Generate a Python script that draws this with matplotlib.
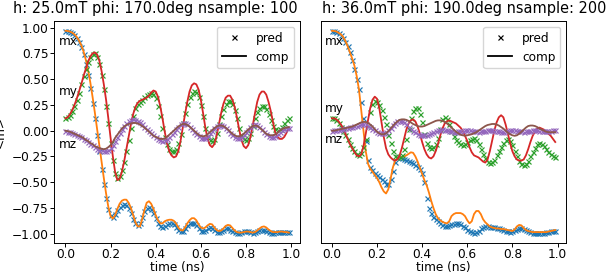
import matplotlib
matplotlib.use("Agg")
import matplotlib.pyplot as plt
import numpy as np
from matplotlib.lines import Line2D

# sample times (ns), 100 samples per run
time = np.linspace(0.0, 0.99, 100)

titles = ["h: 25.0mT phi: 170.0deg nsample: 100",
          "h: 36.0mT phi: 190.0deg nsample: 200"]
comp_names = ["mx", "my", "mz"]

# ---- run 1: h = 25 mT, phi = 170 deg ----
mx_pred_1 = [0.97, 0.97, 0.96, 0.95, 0.93, 0.90, 0.86, 0.81, 0.74, 0.65,
             0.54, 0.41, 0.27, 0.12, -0.04, -0.20, -0.37, -0.52, -0.65, -0.76,
             -0.82, -0.84, -0.81, -0.77, -0.74, -0.72, -0.71, -0.72, -0.75, -0.80,
             -0.86, -0.90, -0.92, -0.90, -0.84, -0.78, -0.75, -0.74, -0.76, -0.80,
             -0.85, -0.90, -0.93, -0.94, -0.93, -0.91, -0.90, -0.90, -0.91, -0.94,
             -0.96, -0.975, -0.97, -0.95, -0.92, -0.90, -0.895, -0.90, -0.92, -0.95,
             -0.97, -0.975, -0.965, -0.95, -0.94, -0.945, -0.96, -0.98, -0.985, -0.975,
             -0.96, -0.95, -0.95, -0.96, -0.975, -0.985, -0.99, -0.99, -0.985, -0.975,
             -0.97, -0.975, -0.985, -0.99, -0.985, -0.975, -0.965, -0.96, -0.965, -0.975,
             -0.985, -0.99, -0.99, -0.985, -0.98, -0.98, -0.985, -0.985, -0.985, -0.985]
mx_comp_1 = [0.97, 0.968, 0.962, 0.952, 0.935, 0.91, 0.875, 0.83, 0.77, 0.69,
             0.59, 0.47, 0.33, 0.18, 0.02, -0.14, -0.30, -0.46, -0.61, -0.74,
             -0.83, -0.855, -0.82, -0.76, -0.71, -0.68, -0.67, -0.67, -0.70, -0.75,
             -0.82, -0.89, -0.93, -0.93, -0.86, -0.77, -0.70, -0.685, -0.71, -0.76,
             -0.82, -0.87, -0.90, -0.90, -0.88, -0.87, -0.865, -0.865, -0.875, -0.90,
             -0.94, -0.965, -0.97, -0.94, -0.90, -0.87, -0.85, -0.85, -0.87, -0.91,
             -0.94, -0.95, -0.94, -0.92, -0.905, -0.91, -0.94, -0.965, -0.975, -0.97,
             -0.95, -0.925, -0.915, -0.92, -0.945, -0.97, -0.985, -0.99, -0.99, -0.985,
             -0.98, -0.98, -0.985, -0.99, -0.985, -0.97, -0.95, -0.935, -0.93, -0.94,
             -0.96, -0.975, -0.985, -0.985, -0.985, -0.98, -0.98, -0.985, -0.985, -0.99]
my_pred_1 = [0.12, 0.13, 0.15, 0.19, 0.24, 0.30, 0.37, 0.45, 0.53, 0.60,
             0.67, 0.72, 0.74, 0.75, 0.72, 0.65, 0.54, 0.40, 0.24, 0.07,
             -0.12, -0.28, -0.41, -0.46, -0.44, -0.38, -0.30, -0.20, -0.09, 0.03,
             0.14, 0.22, 0.26, 0.28, 0.30, 0.33, 0.35, 0.36, 0.37, 0.36,
             0.32, 0.24, 0.14, 0.03, -0.06, -0.13, -0.18, -0.20, -0.20, -0.18,
             -0.12, -0.03, 0.07, 0.17, 0.26, 0.33, 0.37, 0.39, 0.38, 0.33,
             0.25, 0.14, 0.03, -0.05, -0.09, -0.10, -0.08, -0.02, 0.06, 0.14,
             0.21, 0.26, 0.29, 0.29, 0.26, 0.20, 0.12, 0.03, -0.04, -0.08,
             -0.09, -0.07, -0.02, 0.05, 0.12, 0.18, 0.22, 0.24, 0.24, 0.21,
             0.16, 0.10, 0.05, 0.02, 0.01, 0.02, 0.04, 0.07, 0.10, 0.12]
my_comp_1 = [0.12, 0.13, 0.16, 0.20, 0.25, 0.31, 0.38, 0.45, 0.53, 0.60,
             0.67, 0.72, 0.75, 0.76, 0.74, 0.68, 0.58, 0.45, 0.30, 0.12,
             -0.07, -0.25, -0.40, -0.48, -0.47, -0.40, -0.30, -0.18, -0.06, 0.06,
             0.16, 0.23, 0.27, 0.29, 0.30, 0.31, 0.32, 0.34, 0.37, 0.39,
             0.38, 0.33, 0.24, 0.12, -0.01, -0.12, -0.20, -0.24, -0.26, -0.25,
             -0.20, -0.10, 0.03, 0.16, 0.28, 0.38, 0.44, 0.46, 0.45, 0.40,
             0.30, 0.17, 0.03, -0.08, -0.14, -0.16, -0.13, -0.05, 0.06, 0.17,
             0.26, 0.32, 0.34, 0.34, 0.30, 0.23, 0.13, 0.01, -0.09, -0.15,
             -0.17, -0.14, -0.06, 0.05, 0.17, 0.28, 0.35, 0.38, 0.38, 0.35,
             0.28, 0.19, 0.08, -0.02, -0.06, -0.08, -0.08, -0.06, -0.02, 0.03]
mz_pred_1 = [0.0, -0.01, -0.015, -0.025, -0.035, -0.045, -0.055, -0.065, -0.08, -0.095,
             -0.11, -0.125, -0.14, -0.16, -0.175, -0.185, -0.19, -0.195, -0.195, -0.19,
             -0.17, -0.14, -0.10, -0.06, -0.02, 0.02, 0.05, 0.07, 0.09, 0.10,
             0.11, 0.105, 0.095, 0.08, 0.06, 0.04, 0.02, 0.0, -0.02, -0.04,
             -0.06, -0.08, -0.09, -0.10, -0.095, -0.08, -0.06, -0.035, -0.01, 0.015,
             0.04, 0.06, 0.07, 0.07, 0.06, 0.04, 0.015, -0.01, -0.035, -0.055,
             -0.07, -0.075, -0.07, -0.05, -0.025, 0.0, 0.025, 0.045, 0.055, 0.055,
             0.045, 0.03, 0.005, -0.02, -0.045, -0.06, -0.07, -0.07, -0.06, -0.04,
             -0.015, 0.01, 0.035, 0.055, 0.06, 0.055, 0.04, 0.015, -0.01, -0.035,
             -0.05, -0.06, -0.06, -0.05, -0.035, -0.015, 0.005, 0.02, 0.03, 0.03]
mz_comp_1 = [0.0, -0.005, -0.01, -0.02, -0.03, -0.04, -0.05, -0.06, -0.07, -0.09,
             -0.10, -0.12, -0.13, -0.15, -0.16, -0.17, -0.175, -0.18, -0.175, -0.16,
             -0.14, -0.11, -0.07, -0.04, -0.01, 0.02, 0.04, 0.055, 0.065, 0.07,
             0.075, 0.075, 0.07, 0.06, 0.045, 0.03, 0.01, -0.01, -0.03, -0.05,
             -0.06, -0.07, -0.08, -0.08, -0.075, -0.06, -0.04, -0.02, 0.0, 0.02,
             0.04, 0.055, 0.065, 0.065, 0.055, 0.04, 0.02, 0.0, -0.02, -0.04,
             -0.05, -0.055, -0.05, -0.035, -0.015, 0.005, 0.025, 0.04, 0.05, 0.05,
             0.045, 0.03, 0.01, -0.01, -0.03, -0.045, -0.055, -0.055, -0.045, -0.03,
             -0.01, 0.01, 0.03, 0.045, 0.05, 0.045, 0.03, 0.01, -0.01, -0.03,
             -0.04, -0.045, -0.045, -0.035, -0.02, 0.0, 0.015, 0.025, 0.03, 0.035]

# ---- run 2: h = 36 mT, phi = 190 deg ----
mx_pred_2 = [0.97, 0.968, 0.962, 0.95, 0.93, 0.90, 0.86, 0.82, 0.76, 0.69,
             0.60, 0.50, 0.40, 0.28, 0.12, -0.10, -0.28, -0.35, -0.38, -0.41,
             -0.43, -0.45, -0.47, -0.49, -0.52, -0.52, -0.47, -0.39, -0.30, -0.26,
             -0.26, -0.27, -0.275, -0.28, -0.29, -0.30, -0.31, -0.33, -0.35, -0.37,
             -0.41, -0.50, -0.65, -0.75, -0.80, -0.84, -0.86, -0.88, -0.90, -0.915,
             -0.925, -0.93, -0.92, -0.91, -0.905, -0.90, -0.90, -0.91, -0.925, -0.94,
             -0.96, -0.975, -0.985, -0.99, -0.985, -0.97, -0.95, -0.935, -0.93, -0.93,
             -0.935, -0.935, -0.94, -0.945, -0.95, -0.955, -0.96, -0.97, -0.975, -0.98,
             -0.975, -0.965, -0.955, -0.95, -0.95, -0.955, -0.965, -0.975, -0.985, -0.99,
             -0.99, -0.99, -0.99, -0.99, -0.99, -0.985, -0.98, -0.975, -0.975, -0.97]
mx_comp_2 = [0.97, 0.968, 0.963, 0.95, 0.935, 0.91, 0.87, 0.82, 0.76, 0.70,
             0.63, 0.53, 0.40, 0.20, 0.0, -0.20, -0.32, -0.37, -0.40, -0.43,
             -0.46, -0.50, -0.55, -0.59, -0.61, -0.57, -0.47, -0.36, -0.29, -0.27,
             -0.26, -0.255, -0.25, -0.24, -0.225, -0.21, -0.215, -0.25, -0.30, -0.36,
             -0.42, -0.48, -0.53, -0.60, -0.68, -0.75, -0.81, -0.85, -0.87, -0.885,
             -0.895, -0.90, -0.88, -0.83, -0.81, -0.80, -0.80, -0.80, -0.81, -0.83,
             -0.87, -0.90, -0.88, -0.81, -0.78, -0.78, -0.81, -0.86, -0.89, -0.91,
             -0.93, -0.94, -0.945, -0.95, -0.95, -0.955, -0.955, -0.96, -0.965, -0.97,
             -0.975, -0.96, -0.93, -0.915, -0.92, -0.945, -0.965, -0.975, -0.98, -0.985,
             -0.985, -0.985, -0.985, -0.985, -0.985, -0.985, -0.98, -0.975, -0.97, -0.965]
my_pred_2 = [0.12, 0.12, 0.10, 0.07, 0.04, 0.0, -0.04, -0.08, -0.13, -0.17,
             -0.20, -0.23, -0.24, -0.22, -0.16, -0.08, 0.05, 0.18, 0.26, 0.29,
             0.28, 0.25, 0.20, 0.13, 0.06, -0.04, -0.12, -0.20, -0.25, -0.26,
             -0.26, -0.24, -0.18, -0.08, 0.02, 0.12, 0.19, 0.22, 0.22, 0.16,
             0.08, -0.03, -0.12, -0.16, -0.17, -0.16, -0.13, -0.07, 0.02, 0.11,
             0.13, 0.11, 0.06, 0.0, -0.05, -0.09, -0.11, -0.13, -0.14, -0.13,
             -0.11, -0.09, -0.08, -0.07, -0.09, -0.13, -0.18, -0.23, -0.27, -0.30,
             -0.31, -0.30, -0.28, -0.24, -0.20, -0.16, -0.12, -0.09, -0.08, -0.10,
             -0.14, -0.20, -0.25, -0.29, -0.32, -0.33, -0.32, -0.29, -0.25, -0.21,
             -0.17, -0.13, -0.12, -0.13, -0.15, -0.18, -0.21, -0.23, -0.25, -0.26]
my_comp_2 = [0.12, 0.12, 0.11, 0.09, 0.06, 0.02, -0.03, -0.08, -0.13, -0.17,
             -0.21, -0.24, -0.25, -0.23, -0.15, -0.03, 0.10, 0.22, 0.30, 0.33,
             0.31, 0.22, 0.08, -0.06, -0.17, -0.23, -0.26, -0.28, -0.29, -0.28,
             -0.24, -0.17, -0.08, 0.01, 0.07, 0.10, 0.11, 0.09, 0.04, -0.03,
             -0.11, -0.18, -0.23, -0.26, -0.27, -0.25, -0.20, -0.13, -0.05, 0.02,
             0.07, 0.09, 0.10, 0.09, 0.08, 0.07, 0.05, 0.03, 0.0, -0.05,
             -0.10, -0.16, -0.21, -0.24, -0.25, -0.26, -0.28, -0.30, -0.31, -0.28,
             -0.20, -0.10, 0.0, 0.08, 0.13, 0.15, 0.13, 0.06, -0.03, -0.12,
             -0.20, -0.25, -0.28, -0.29, -0.29, -0.28, -0.24, -0.18, -0.11, -0.05,
             -0.01, 0.02, 0.03, 0.02, 0.01, -0.01, -0.03, -0.05, -0.08, -0.11]
mz_pred_2 = [0.0, 0.003, 0.006, 0.01, 0.015, 0.02, 0.025, 0.03, 0.035, 0.04,
             0.045, 0.05, 0.055, 0.06, 0.065, 0.06, 0.05, 0.035, 0.02, 0.005,
             -0.01, -0.02, -0.025, -0.025, -0.015, 0.005, 0.03, 0.055, 0.075, 0.09,
             0.095, 0.09, 0.08, 0.06, 0.04, 0.02, 0.0, -0.015, -0.03, -0.04,
             -0.045, -0.045, -0.04, -0.035, -0.025, -0.015, -0.005, 0.005, 0.01, 0.012,
             0.01, 0.005, 0.0, -0.005, -0.01, -0.01, -0.008, -0.004, 0.0, 0.004,
             0.006, 0.005, 0.0, -0.005, -0.008, -0.01, -0.008, -0.004, 0.0, 0.004,
             0.006, 0.005, 0.001, -0.004, -0.008, -0.01, -0.009, -0.005, 0.0, 0.004,
             0.006, 0.005, 0.001, -0.004, -0.008, -0.009, -0.007, -0.003, 0.001, 0.004,
             0.005, 0.004, 0.0, -0.004, -0.006, -0.006, -0.004, 0.0, 0.003, 0.004]
mz_comp_2 = [0.0, 0.0, 0.005, 0.01, 0.015, 0.02, 0.025, 0.03, 0.035, 0.04,
             0.05, 0.06, 0.07, 0.08, 0.085, 0.085, 0.075, 0.06, 0.04, 0.015,
             -0.01, -0.025, -0.035, -0.035, -0.025, -0.005, 0.02, 0.045, 0.07, 0.09,
             0.105, 0.11, 0.11, 0.105, 0.095, 0.08, 0.065, 0.055, 0.045, 0.04,
             0.04, 0.045, 0.055, 0.065, 0.075, 0.085, 0.095, 0.10, 0.10, 0.095,
             0.085, 0.07, 0.05, 0.03, 0.01, -0.01, -0.025, -0.04, -0.045, -0.05,
             -0.045, -0.04, -0.035, -0.025, -0.015, 0.0, 0.015, 0.03, 0.045, 0.055,
             0.06, 0.065, 0.065, 0.06, 0.05, 0.035, 0.02, 0.0, -0.02, -0.035,
             -0.045, -0.05, -0.045, -0.03, -0.01, 0.01, 0.03, 0.045, 0.05, 0.05,
             0.045, 0.035, 0.02, 0.01, 0.0, -0.01, -0.015, -0.015, -0.015, -0.015]

# where the mx / my / mz names sit (time, value) in each panel
label_x = [-0.03, -0.03]
label_y = [[0.836, 0.344, -0.164], [0.836, 0.18, -0.115]]

runs = [
    [(mx_pred_1, mx_comp_1), (my_pred_1, my_comp_1), (mz_pred_1, mz_comp_1)],
    [(mx_pred_2, mx_comp_2), (my_pred_2, my_comp_2), (mz_pred_2, mz_comp_2)],
]

# the original looks like a default-style figure rendered at ~87 dpi,
# so shrink the point sizes to match at 100 dpi
s = 0.87
plt.rcParams.update({
    'font.size': 10 * s,
    'axes.titlesize': 12 * s,
    'axes.titlepad': 6 * s,
    'axes.labelpad': 4 * s,
    'axes.linewidth': 0.8 * s,
    'xtick.major.size': 3.5 * s,
    'ytick.major.size': 3.5 * s,
    'xtick.major.pad': 0.8,
    'ytick.major.pad': 1.0,
    'xtick.major.width': 0.8 * s,
    'ytick.major.width': 0.8 * s,
    'lines.linewidth': 1.5 * s,
})

fig = plt.figure(figsize=(6.08, 2.72), dpi=100)
ax1 = fig.add_axes([0.0893, 0.1077, 0.4041, 0.8162])
ax2 = fig.add_axes([0.5275, 0.1077, 0.4041, 0.8162], sharey=ax1)
axes = [ax1, ax2]
title_x = [0.412, 0.585]
ms = 3.6

for k, ax in enumerate(axes):
    for j, (pred, comp) in enumerate(runs[k]):
        ax.plot(time, pred, 'x', ms=ms, mew=1 * s)
        ax.plot(time, comp, '-')
        ax.text(label_x[k], label_y[k][j], comp_names[j], va='baseline', ha='left')
    ax.set_xlabel('time (ns)', labelpad=0)
    ax.set_title(titles[k], x=title_x[k])
    handles = [Line2D([], [], color='k', marker='x', ls='none', ms=ms, mew=1 * s, label='pred'),
               Line2D([], [], color='k', label='comp')]
    ax.legend(handles=handles, loc='upper right')

ax1.set_ylabel('<m>')
ax2.tick_params(axis='y', left=False, labelleft=False)

fig.savefig('out.png', dpi=100)
